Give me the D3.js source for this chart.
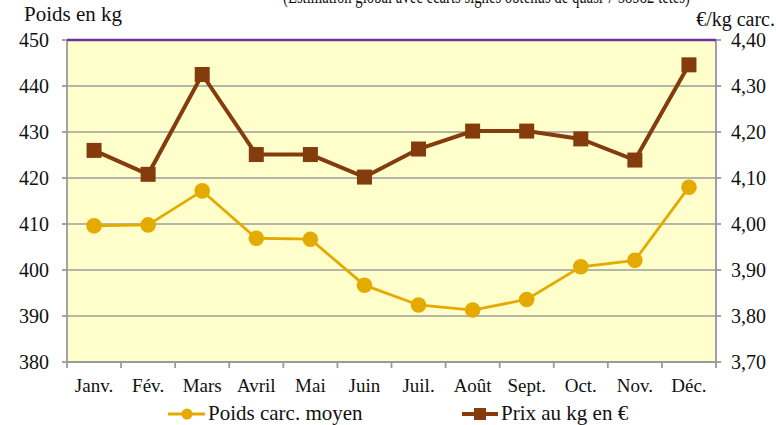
<!DOCTYPE html>
<html><head><meta charset="utf-8">
<script src="https://cdn.jsdelivr.net/npm/d3@7"></script>
<style>body{margin:0;background:#fff}svg{display:block}</style>
</head><body><svg id="c" width="776" height="425"></svg>
<script>
const months = ["Janv.","Fév.","Mars","Avril","Mai","Juin","Juil.","Août","Sept.","Oct.","Nov.","Déc."];
const poids = [409.6,409.8,417.2,406.9,406.7,396.7,392.4,391.3,393.6,400.7,402.1,418.0];
const prix = [4.160,4.108,4.325,4.151,4.151,4.102,4.163,4.202,4.202,4.185,4.139,4.346];
const leftTicks = [380,390,400,410,420,430,440,450];
const rightTicks = [3.70,3.80,3.90,4.00,4.10,4.20,4.30,4.40];
const seriesNames = ["Poids carc. moyen","Prix au kg en €"];

const FONT = "'Liberation Serif', 'Tinos', 'DejaVu Serif', 'Times New Roman', serif";
const svg = d3.select("#c");
const L=67,R=716,T=40,B=362;
const x = d3.scaleBand().domain(months).range([L,R]);
const yL = d3.scaleLinear().domain([380,450]).range([B,T]);
const yR = d3.scaleLinear().domain([3.70,4.40]).range([B,T]);
const gold="#E5AA00", brown="#843C0C", grid="#9C9C9C";

svg.append("rect").attr("x",L).attr("y",T).attr("width",R-L).attr("height",B-T).attr("fill","#FFFFCC");
svg.append("g").selectAll("line").data(leftTicks.slice(1,-1)).join("line")
  .attr("x1",L).attr("x2",R).attr("y1",d=>yL(d)).attr("y2",d=>yL(d)).attr("stroke",grid).attr("stroke-width",1.6);

// axes
const ax = svg.append("g").attr("stroke","#9A9A9A").attr("stroke-width",1.8);
ax.append("line").attr("x1",L).attr("x2",L).attr("y1",T).attr("y2",B);
ax.append("line").attr("x1",L).attr("x2",R).attr("y1",B).attr("y2",B);
ax.append("line").attr("x1",R).attr("x2",R).attr("y1",T).attr("y2",B).attr("stroke","#9B90AA");
ax.selectAll(".tl").data(leftTicks).join("line").attr("x1",L-5).attr("x2",L).attr("y1",d=>yL(d)).attr("y2",d=>yL(d));
ax.selectAll(".tr").data(rightTicks).join("line").attr("x1",R).attr("x2",R+5).attr("y1",d=>yR(d)).attr("y2",d=>yR(d));
const bounds = months.map(m=>x(m)).concat([R]);
ax.selectAll(".tb").data(bounds).join("line").attr("x1",d=>d).attr("x2",d=>d).attr("y1",B).attr("y2",B+6);
svg.append("line").attr("x1",L).attr("x2",R).attr("y1",T).attr("y2",T).attr("stroke","#7030A0").attr("stroke-width",2.5);

const txt = (sel)=>sel.style("font-family",FONT).attr("fill","#111");
txt(svg.append("g").selectAll("text").data(leftTicks).join("text")
  .attr("x",49).attr("y",d=>yL(d)+6.5).attr("text-anchor","end").attr("font-size",20).text(d=>d));
const fmt = d=>d.toFixed(2).replace(".",",");
txt(svg.append("g").selectAll("text").data(rightTicks).join("text")
  .attr("x",731).attr("y",d=>yR(d)+6.5).attr("font-size",20).text(fmt));
txt(svg.append("g").selectAll("text").data(months).join("text")
  .attr("x",d=>x(d)+x.bandwidth()/2).attr("y",392).attr("text-anchor","middle").attr("font-size",19).text(d=>d));

txt(svg.append("text").attr("x",24).attr("y",21).attr("font-size",21).text("Poids en kg"));
txt(svg.append("text").attr("x",775).attr("y",25.5).attr("text-anchor","end").attr("font-size",20).text("€/kg carc."));
txt(svg.append("text").attr("x",283).attr("y",3).attr("font-size",20).attr("textLength",407).attr("lengthAdjust","spacingAndGlyphs")
  .text("(Estimation global avec écarts signés obtenus de quasi 7 58982 têtes)"));

// series
const cx = d=>x(d)+x.bandwidth()/2;
svg.append("path").datum(prix).attr("fill","none").attr("stroke",brown).attr("stroke-width",4)
  .attr("d",d3.line().x((d,i)=>cx(months[i])).y(d=>yR(d)));
svg.append("g").selectAll("rect").data(prix).join("rect")
  .attr("x",(d,i)=>cx(months[i])-7.5).attr("y",d=>yR(d)-7.5).attr("width",15).attr("height",15).attr("fill",brown);
svg.append("path").datum(poids).attr("fill","none").attr("stroke",gold).attr("stroke-width",2.8)
  .attr("d",d3.line().x((d,i)=>cx(months[i])).y(d=>yL(d)));
svg.append("g").selectAll("circle").data(poids).join("circle")
  .attr("cx",(d,i)=>cx(months[i])).attr("cy",d=>yL(d)).attr("r",7.8).attr("fill",gold);

// legend
const lg = svg.append("g");
lg.append("line").attr("x1",168).attr("x2",205).attr("y1",414).attr("y2",414).attr("stroke",gold).attr("stroke-width",2.8);
lg.append("circle").attr("cx",187).attr("cy",414).attr("r",5.5).attr("fill",gold);
txt(lg.append("text").attr("x",208).attr("y",420).attr("font-size",21).text(seriesNames[0]));
lg.append("line").attr("x1",462).attr("x2",498).attr("y1",414).attr("y2",414).attr("stroke",brown).attr("stroke-width",4);
lg.append("rect").attr("x",474).attr("y",408).attr("width",12).attr("height",12).attr("fill",brown);
txt(lg.append("text").attr("x",501).attr("y",420).attr("font-size",21).text(seriesNames[1]));
</script></body></html>
